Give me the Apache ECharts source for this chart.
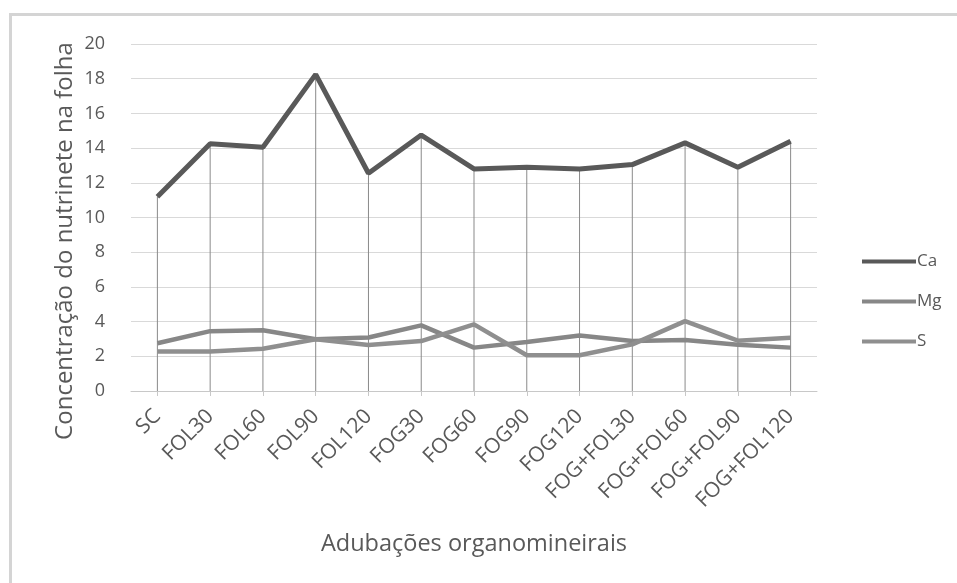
<!DOCTYPE html>
<html>
<head>
<meta charset="utf-8">
<script src="https://cdn.jsdelivr.net/npm/echarts@6/dist/echarts.min.js"></script>
<style>
  html, body { margin: 0; padding: 0; background: #fff; }
  #chart { width: 957px; height: 583px; }
</style>
</head>
<body>
<div id="chart"></div>
<script>
// Treatments (organomineral fertilisation)
const categories = ['SC', 'FOL30', 'FOL60', 'FOL90', 'FOL120', 'FOG30', 'FOG60',
  'FOG90', 'FOG120', 'FOG+FOL30', 'FOG+FOL60', 'FOG+FOL90', 'FOG+FOL120'];

// Leaf nutrient concentration per treatment
const ca = [11.2, 14.25, 14.05, 18.25, 12.55, 14.75, 12.8, 12.9, 12.8, 13.05, 14.3, 12.9, 14.4];
const mg = [2.75, 3.45, 3.5, 2.98, 3.08, 3.78, 2.5, 2.83, 3.2, 2.88, 2.94, 2.67, 2.5];
const s  = [2.27, 2.27, 2.44, 2.98, 2.65, 2.88, 3.84, 2.06, 2.06, 2.69, 4.03, 2.9, 3.07];

const yTicks = [0, 2, 4, 6, 8, 10, 12, 14, 16, 18, 20];

const yTitle = 'Concentração do nutrinete na folha';
const xTitle = 'Adubações organomineirais';

// Drop lines run from the highest point of each category down to the axis
const dropTop = categories.map((_, i) => Math.max(ca[i], mg[i], s[i]));

const font = 'Open Sans';
const textColor = '#595959';

const chart = echarts.init(document.getElementById('chart'));
chart.setOption({
  animation: false,
  backgroundColor: '#ffffff',
  graphic: [
    {
      type: 'rect',
      shape: { x: 10.5, y: 14.5, width: 1000, height: 1000 },
      style: { fill: 'none', stroke: '#d4d4d4', lineWidth: 3 },
      silent: true
    },
    {
      // vertical axis title, set slightly below the plot's middle
      type: 'text',
      x: 65,
      y: 241,
      rotation: Math.PI / 2,
      style: {
        text: yTitle,
        fill: textColor,
        font: '24px "Open Sans"',
        align: 'center',
        verticalAlign: 'middle'
      },
      silent: true
    }
  ],
  grid: { left: 131, right: 140, top: 44, bottom: 192 },
  legend: {
    data: ['Ca', 'Mg', 'S'],
    orient: 'vertical',
    left: 857,
    top: 248,
    itemWidth: 54,
    itemHeight: 4,
    itemGap: 23,
    icon: 'rect',
    textStyle: { color: textColor, fontFamily: font, fontSize: 17, padding: [0, 0, 0, -4] }
  },
  xAxis: {
    type: 'category',
    data: categories,
    boundaryGap: true,
    name: xTitle,
    nameLocation: 'middle',
    nameGap: 141,
    nameTextStyle: { color: textColor, fontFamily: font, fontSize: 23.5 },
    axisLine: { lineStyle: { color: '#c8c8c8', width: 1 } },
    axisTick: { show: true, alignWithLabel: true, length: 5, lineStyle: { color: '#c8c8c8' } },
    axisLabel: { rotate: 45, color: textColor, fontFamily: font, fontSize: 21, margin: 22, interval: 0 },
    splitLine: { show: false }
  },
  yAxis: {
    type: 'value',
    min: yTicks[0],
    max: yTicks[yTicks.length - 1],
    interval: 2,
    axisLine: { show: false },
    axisTick: { show: false },
    axisLabel: { color: textColor, fontFamily: font, fontSize: 18, margin: 26 },
    splitLine: { lineStyle: { color: '#d9d9d9', width: 1 } }
  },
  series: [
    {
      name: 'drop',
      type: 'bar',
      data: dropTop,
      barWidth: 1,
      itemStyle: { color: '#8a8a8a' },
      silent: true,
      z: 1
    },
    {
      name: 'Ca', type: 'line', data: ca, symbol: 'none',
      lineStyle: { color: '#595959', width: 5 }, itemStyle: { color: '#595959' }, z: 4
    },
    {
      name: 'Mg', type: 'line', data: mg, symbol: 'none',
      lineStyle: { color: '#878787', width: 4.5 }, itemStyle: { color: '#878787' }, z: 3
    },
    {
      name: 'S', type: 'line', data: s, symbol: 'none',
      lineStyle: { color: '#8f8f8f', width: 4.5 }, itemStyle: { color: '#8f8f8f' }, z: 3
    }
  ]
});
</script>
</body>
</html>
